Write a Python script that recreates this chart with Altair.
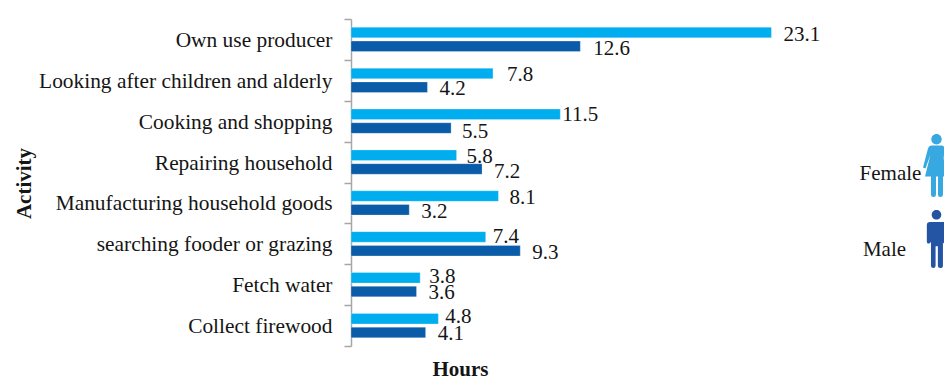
import altair as alt
import pandas as pd

activities = ["Own use producer", "Looking after children and alderly", "Cooking and shopping",
              "Repairing household", "Manufacturing household goods", "searching fooder or grazing",
              "Fetch water", "Collect firewood"]
female = [23.1, 7.8, 11.5, 5.8, 8.1, 7.4, 3.8, 4.8]
male = [12.6, 4.2, 5.5, 7.2, 3.2, 9.3, 3.6, 4.1]
# hand-placed value labels in the reference: nudges from the bar end / band centre
female_dx = [12, 14, 2, 10, 11, 7, 9, 7]
male_dx = [13, 12, 11, 12, 12, 12, 12, 12]
female_dy = [-4, -5, -6.5, -5.5, -4.5, -6.5, -7.5, -8.5]
male_dy = [10, 9, 10.5, 9.5, 9.5, 9.5, 8.5, 8.5]
FONT = "Liberation Serif"
TXT = "#151515"
PW, PH = 593, 327
XMAX = 32.58
PX_PER_HOUR = PW / XMAX

rows = []
for a, f, m, fx, mx, fy, my in zip(activities, female, male, female_dx, male_dx, female_dy, male_dy):
    rows.append({"Activity": a, "Sex": "Female", "Hours": f, "Label": f"{f:.1f}",
                 "At": f + fx / PX_PER_HOUR, "dy": fy + PH / 16})
    rows.append({"Activity": a, "Sex": "Male", "Hours": m, "Label": f"{m:.1f}",
                 "At": m + mx / PX_PER_HOUR, "dy": my + PH / 16})
df = pd.DataFrame(rows)

y = alt.Y("Activity:N", sort=activities,
          scale=alt.Scale(paddingInner=0, paddingOuter=0),
          axis=alt.Axis(title="Activity", titleFont=FONT, titleFontSize=21, titleFontWeight="bold",
                        titleColor=TXT, titleX=-321, titleY=164, titleBaseline="alphabetic",
                        labelFont=FONT, labelFontSize=21.4, labelColor=TXT, labelPadding=12,
                        labelOffset=1, labelLimit=340, tickBand="extent", tickColor="#a6a6a6", tickSize=7,
                        domainColor="#a6a6a6", domainWidth=1.5, tickWidth=1.5, grid=False))
yo = alt.YOffset("Sex:N", sort=["Female", "Male"], scale=alt.Scale(paddingInner=0.23, paddingOuter=0.6))
xscale = alt.Scale(domain=[0, XMAX], nice=False)
xaxis = alt.Axis(title="Hours", titleFont=FONT, titleFontSize=21, titleFontWeight="bold",
                 titleColor=TXT, titleX=109, titleY=29, titleBaseline="alphabetic",
                 labels=False, ticks=False, domain=False, grid=False)

bars = alt.Chart(df).mark_bar(stroke="#ffffff", strokeOpacity=0.35, strokeWidth=0.8).encode(
    x=alt.X("Hours:Q", scale=xscale, axis=xaxis), y=y, yOffset=yo,
    color=alt.Color("Sex:N", legend=None,
                    scale=alt.Scale(domain=["Female", "Male"], range=["#00AEEF", "#0A5CA8"])))
labels = alt.Chart(df).mark_text(align="left", font=FONT, fontSize=21, color=TXT).encode(
    x=alt.X("At:Q", scale=xscale, axis=xaxis), y=y,
    yOffset=alt.YOffset("dy:Q", scale=None),
    text="Label:N")


def unit(px):
    return " ".join(str(round(v / 31.5, 4)) if isinstance(v, (int, float)) else v for v in px)


head = ["M", 0, -31.5, "C", 3, -31.5, 5.2, -29.2, 5.2, -26.3, "C", 5.2, -23.4, 3, -21.1, 0, -21.1,
        "C", -3, -21.1, -5.2, -23.4, -5.2, -26.3, "C", -5.2, -29.2, -3, -31.5, 0, -31.5, "Z"]
female_icon = unit(head + [
    "M", -5, -20, "L", 5, -20, "Q", 7.5, -20, 8.5, -17, "L", 13.5, 2, "L", 11, 3,
    "L", 6, -11, "L", 12, 11, "L", 6.5, 11, "L", 6.5, 29, "Q", 6.5, 31.5, 4, 31.5,
    "Q", 1.5, 31.5, 1.5, 29, "L", 1.5, 11, "L", -0.5, 11, "L", -0.5, 29,
    "Q", -0.5, 31.5, -3, 31.5, "Q", -5.5, 31.5, -5.5, 29, "L", -5.5, 11,
    "L", -11.5, 11, "L", -6, -11, "L", -11, 3, "L", -13.5, 2, "L", -8.5, -17,
    "Q", -7.5, -20, -5, -20, "Z"])
male_icon = unit(head + [
    "M", -7, -18.5, "L", 7, -18.5, "Q", 10.5, -18.5, 10.5, -15, "L", 10.5, 3,
    "Q", 10.5, 5, 9, 5, "Q", 7, 5, 7, 3, "L", 7, 29, "Q", 7, 31.5, 4, 31.5,
    "Q", 1.5, 31.5, 1.5, 29, "L", 1.5, 8, "L", -1, 8, "L", -1, 29,
    "Q", -1, 31.5, -3.5, 31.5, "Q", -6, 31.5, -6, 29, "L", -6, 3,
    "Q", -7, 5, -8.5, 5, "Q", -10.5, 5, -10.5, 3, "L", -10.5, -15,
    "Q", -10.5, -18.5, -7, -18.5, "Z"])

base = alt.Chart(pd.DataFrame({"k": [0]}))
ficon = base.mark_point(shape=female_icon, filled=True, opacity=1, color="#38A9E0", size=3969).encode(
    x=alt.value(585.5), y=alt.value(146.5))
micon = base.mark_point(shape=male_icon, filled=True, opacity=1, color="#2455A4", size=3364).encode(
    x=alt.value(585.5), y=alt.value(220))
ftext = base.mark_text(text="Female", align="center", font=FONT, fontSize=21, color=TXT).encode(
    x=alt.value(539.5), y=alt.value(155))
mtext = base.mark_text(text="Male", align="center", font=FONT, fontSize=21, color=TXT).encode(
    x=alt.value(533.5), y=alt.value(231))

chart = alt.layer(bars, labels, ficon, micon, ftext, mtext).properties(
    width=PW, height=PH,
    autosize=alt.AutoSizeParams(type="none"),
    padding={"left": 343, "top": 11, "right": 0, "bottom": 30},
).configure_view(stroke=None)

chart.save("out.html", embed_options={"renderer": "svg", "actions": False})
